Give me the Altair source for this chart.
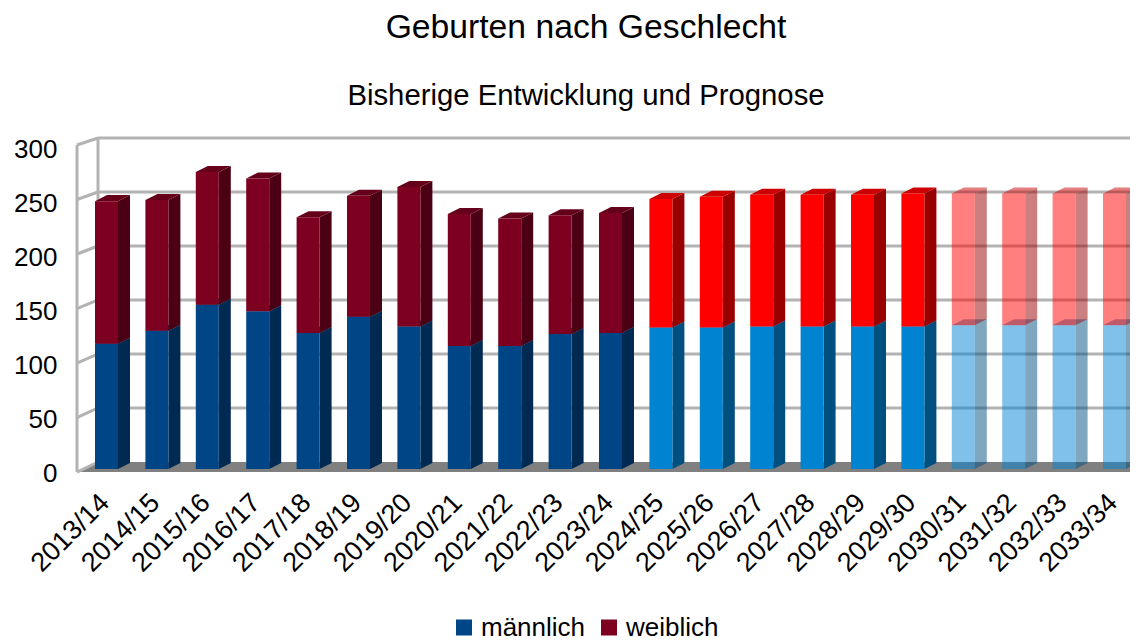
import altair as alt
import pandas as pd

jahre = ["2013/14","2014/15","2015/16","2016/17","2017/18","2018/19","2019/20","2020/21","2021/22","2022/23","2023/24",
         "2024/25","2025/26","2026/27","2027/28","2028/29","2029/30","2030/31","2031/32","2032/33","2033/34"]
maennlich = [116,128,152,146,126,141,132,114,114,125,126,131,131,132,132,132,132,133,133,133,133]
gesamt = [248,249,275,269,233,253,261,236,232,235,237,250,252,254,254,254,255,255,255,255,255]
phase = [0]*11 + [1]*6 + [2]*4

FONT = "Liberation Sans"
front_col = {"m": ["#004586","#0084d1","#0084d1"], "w": ["#7e0021","#ff0000","#ff0000"]}
side_col = {"m": ["#002a52","#00507f","#00507f"], "w": ["#4c0014","#990000","#990000"]}
top_col = {"m": ["#00386c","#006aa8","#006aa8"], "w": ["#65001a","#cc0000","#cc0000"]}
opac = [1, 1, 0.5]

W, H = 1053, 324
PITCH = 50.4
XMAX = W / PITCH
BL, BW, DX, DY = 18 / PITCH, 23 / PITCH, 12 / PITCH, 5.6
WX, WY = 21 / PITCH, 6.5
LAB = BL + BW / 2 - 0.22

xs = alt.Scale(domain=[0, XMAX], nice=False, zero=False)
ys = alt.Scale(domain=[0, 300], nice=False, zero=False)

faces, fronts = [], []
def poly(key, pts_low, pts_up, xs_, col, op):
    for x, a, b in zip(xs_, pts_low, pts_up):
        faces.append(dict(k=key, x=x, y=a, y2=b, c=col, o=op))

for i, (j, m, g, p) in enumerate(zip(jahre, maennlich, gesamt, phase)):
    l = i + BL; r = l + BW
    for s, lo, hi in (("m", 0, m), ("w", m, g)):
        poly(f"{i}{s}side", [lo, lo + DY], [hi, hi + DY], [r, r + DX], side_col[s][p], opac[p])
        poly(f"{i}{s}top", [hi, hi, hi, hi + DY], [hi, hi + DY, hi + DY, hi + DY],
             [l, l + DX, r, r + DX], top_col[s][p], opac[p])
        fronts.append(dict(j=j, l=l, r=r, lo=lo, hi=hi, c=front_col[s][p], o=opac[p], p=p,
                           s="männlich" if s == "m" else "weiblich"))
faces = pd.DataFrame(faces)
fronts = pd.DataFrame(fronts)

X = alt.X("x:Q", scale=xs, title=None,
          axis=alt.Axis(values=[i + LAB for i in range(len(jahre))],
                        labelExpr="[" + ",".join(f"'{j}'" for j in jahre) + "][round(datum.value-%.4f)]" % LAB,
                        labelAngle=-45, labelAlign="right", labelBaseline="top", labelFontSize=27, labelFont=FONT,
                        labelColor="#000000", labelPadding=20, labelOverlap=False, labelBound=False, labelFlush=False,
                        domain=False, ticks=False, grid=False))
Y = alt.Y("y:Q", scale=ys, title=None,
          axis=alt.Axis(values=[0, 50, 100, 150, 200, 250, 300], labelFontSize=26, labelFont=FONT, labelColor="#000000",
                        labelPadding=20, labelOffset=4.5, labelBound=False, labelFlush=False, domain=False, ticks=False, grid=False))

floor = pd.DataFrame(dict(x=[0, WX, XMAX], y=[-2.8, -2.8, -2.8], y2=[-2.8, WY, WY]))
floor_l = alt.Chart(floor).mark_area(color="#808080").encode(X, Y, y2="y2:Q")

ticks = [0, 50, 100, 150, 200, 250, 300]
walls = []
for v in ticks:
    front = v * 1.0093 - 2.8
    walls += [dict(k=f"d{v}", x=0, y=front), dict(k=f"d{v}", x=WX, y=v + WY)]
    if v > 0:
        walls += [dict(k=f"g{v}", x=WX, y=v + WY), dict(k=f"g{v}", x=XMAX, y=v + WY)]
walls += [dict(k="vf", x=0, y=-2.8), dict(k="vf", x=0, y=300),
          dict(k="vb", x=WX, y=WY), dict(k="vb", x=WX, y=300 + WY)]
walls = pd.DataFrame(walls)
walls_l = alt.Chart(walls).mark_line(color="#b3b3b3", strokeWidth=3).encode(X, Y, detail="k:N")

faces_l = alt.Chart(faces).mark_area(interpolate="linear").encode(
    x=alt.X("x:Q", scale=xs), y=alt.Y("y:Q", scale=ys), y2="y2:Q", detail="k:N",
    color=alt.Color("c:N", scale=None), opacity=alt.Opacity("o:Q", scale=None))

fx = alt.X("l:Q", scale=xs); fy = alt.Y("lo:Q", scale=ys)
front_hist = alt.Chart(fronts[fronts.p == 0]).mark_rect().encode(
    fx, x2="r:Q", y=fy, y2="hi:Q",
    fill=alt.Fill("s:N", title=None,
                  scale=alt.Scale(domain=["männlich", "weiblich"], range=["#004586", "#7e0021"]),
                  legend=alt.Legend(orient="none", legendX=374, legendY=469.5, direction="horizontal", symbolType="square",
                                    symbolSize=256, labelFontSize=26, labelFont=FONT, labelColor="#000000",
                                    columnPadding=10, symbolStrokeWidth=0, padding=0)))
front_rest = alt.Chart(fronts[fronts.p > 0]).mark_rect().encode(
    fx, x2="r:Q", y=fy, y2="hi:Q",
    color=alt.Color("c:N", scale=None), opacity=alt.Opacity("o:Q", scale=None))

chart = alt.layer(floor_l, walls_l, faces_l, front_hist, front_rest).properties(
    width=W, height=H, background="white",
    autosize=alt.AutoSizeParams(type="none"),
    padding={"left": 69, "top": 137, "right": 0, "bottom": 172},
    title=alt.TitleParams("Geburten nach Geschlecht", subtitle="Bisherige Entwicklung und Prognose",
                          anchor="middle", dx=-17.5, font=FONT, fontSize=33.7, fontWeight="normal", color="#000000",
                          subtitleFont=FONT, subtitleFontSize=29.3, subtitleColor="#000000", subtitlePadding=37.5, offset=20.5),
).configure_view(stroke=None)

chart.save("out.html", embed_options={"renderer": "svg", "actions": False})
